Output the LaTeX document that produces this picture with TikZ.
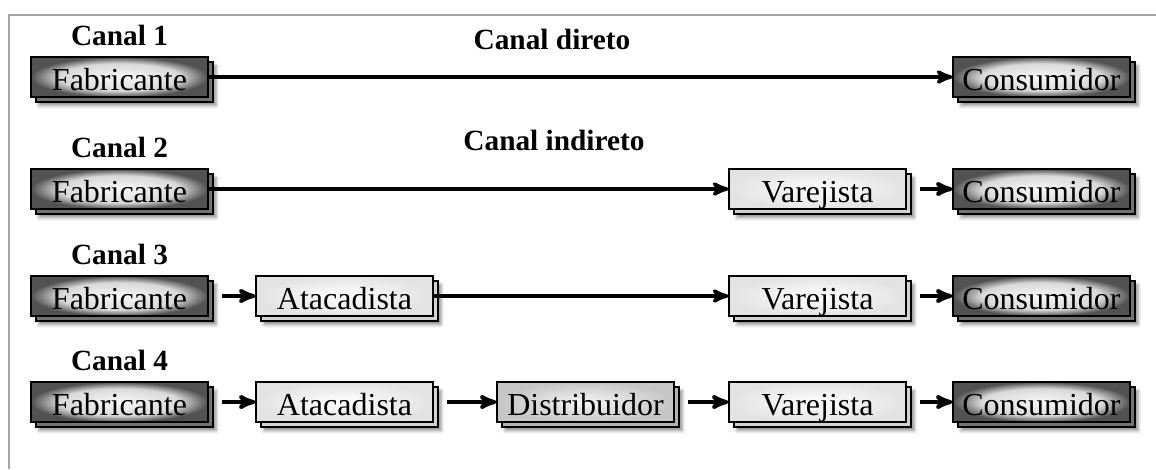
\documentclass[tikz,border=0pt]{standalone}
\usepackage{fontspec}
\setmainfont{Liberation Serif}
\usetikzlibrary{arrows}
\usetikzlibrary{shadows,shadows.blur}

\colorlet{glowin}{gray!5}
\colorlet{glowmid}{gray!30}
\colorlet{glowout}{black!68}
\pgfdeclareradialshading{darkglow}{\pgfpoint{0bp}{0bp}}{color(0bp)=(glowin); color(17bp)=(glowmid); color(25bp)=(glowout); color(50bp)=(glowout)}

\tikzset{
  box node/.style={rectangle,draw=black,line width=0.8pt,
    minimum width=132.75pt,minimum height=30pt,inner sep=0pt,
    text height=20.5pt,text depth=0pt,
    font=\fontsize{24}{24}\selectfont,text=black,
    blur shadow={shadow xshift=6pt,shadow yshift=-6.5pt,shadow blur radius=2.5pt,shadow opacity=45},
    general shadow={fill=#1,draw=black,line width=0.8pt,shadow xshift=3.75pt,shadow yshift=-3.75pt}},
  dark node/.style={box node=black!55,shading=darkglow},
  mid node/.style={box node=gray!60,inner color=gray!8,outer color=gray!45},
  light node/.style={box node=gray!35,inner color=white,outer color=gray!22},
  far link/.style={->,line width=2.8pt},
  near link/.style={->,line width=3pt,shorten <=10pt}
}

\begin{document}
\begin{tikzpicture}[x=0.75pt,y=-0.75pt,>=stealth',
                    every label/.style={font=\bfseries\fontsize{22}{22}\selectfont,inner sep=0pt},
                    label distance=8pt]
\useasboundingbox (0,0) rectangle (1156,469);
% frame
\draw[gray!70,line width=1pt] (9,469) -- (9,15) -- (1156,15);

% Canal 1
\node[dark node] (F1) at (119.5,77) [label={above:Canal 1}] {Fabricante};
\node[dark node] (C1) at (1041.5,77) {Consumidor};
% Canal 2
\node[dark node] (F2) at (119.5,189) [label={above:Canal 2}] {Fabricante};
\node[light node] (V2) at (817.5,189) {Varejista};
\node[dark node] (C2) at (1041.5,189) {Consumidor};
% Canal 3
\node[dark node] (F3) at (119.5,296) [label={above:Canal 3}] {Fabricante};
\node[light node] (A3) at (344.5,296) {Atacadista};
\node[light node] (V3) at (817.5,296) {Varejista};
\node[dark node] (C3) at (1041.5,296) {Consumidor};
% Canal 4
\node[dark node] (F4) at (119.5,402) [label={above:Canal 4}] {Fabricante};
\node[light node] (A4) at (344.5,402) {Atacadista};
\node[mid node] (D4) at (585.5,402) {Distribuidor};
\node[light node] (V4) at (817.5,402) {Varejista};
\node[dark node] (C4) at (1041.5,402) {Consumidor};

\node[font=\bfseries\fontsize{22}{22}\selectfont,anchor=base] (direto) at (552,49) {Canal direto};
\node[font=\bfseries\fontsize{22}{22}\selectfont,anchor=base] (indireto) at (554,150) {Canal indireto};

\path
  (F1) edge[far link] (C1)
  (F2) edge[far link] (V2)
  (V2) edge[near link] (C2)
  (F3) edge[near link] (A3)
  (A3) edge[far link] (V3)
  (V3) edge[near link] (C3)
  (F4) edge[near link] (A4)
  (A4) edge[near link] (D4)
  (D4) edge[near link] (V4)
  (V4) edge[near link] (C4);

\end{tikzpicture}
\end{document}
